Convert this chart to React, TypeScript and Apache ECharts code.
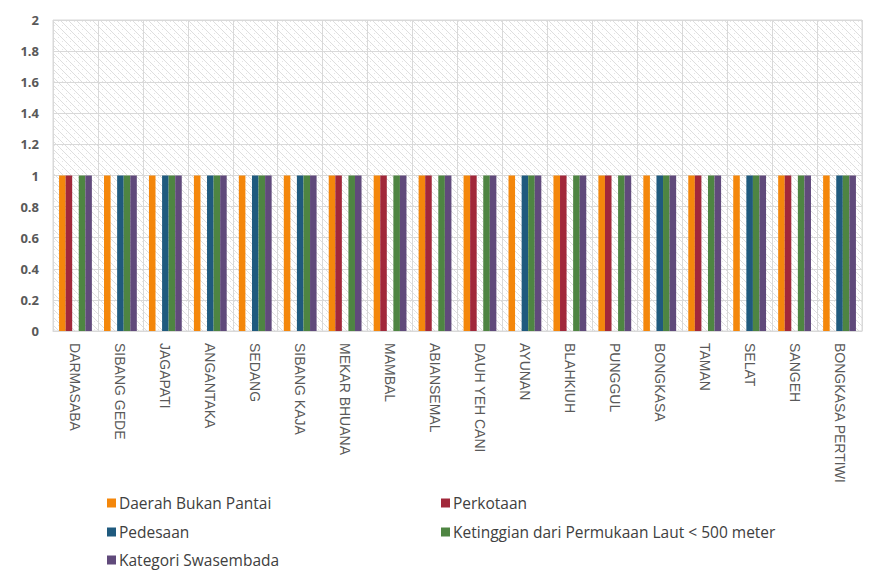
import React, { useEffect, useRef } from "react";
import * as echarts from "echarts";

const categories = [
  "DARMASABA", "SIBANG GEDE", "JAGAPATI", "ANGANTAKA", "SEDANG", "SIBANG KAJA",
  "MEKAR BHUANA", "MAMBAL", "ABIANSEMAL", "DAUH YEH CANI", "AYUNAN", "BLAHKIUH",
  "PUNGGUL", "BONGKASA", "TAMAN", "SELAT", "SANGEH", "BONGKASA PERTIWI",
];
const seriesNames = [
  "Daerah Bukan Pantai",
  "Perkotaan",
  "Pedesaan",
  "Ketinggian dari Permukaan Laut < 500 meter",
  "Kategori Swasembada",
];
const daerahBukanPantai = [1, 1, 1, 1, 1, 1, 1, 1, 1, 1, 1, 1, 1, 1, 1, 1, 1, 1];
const perkotaan = [1, 0, 0, 0, 0, 0, 1, 1, 1, 1, 0, 1, 1, 0, 1, 0, 1, 0];
const pedesaan = [0, 1, 1, 1, 1, 1, 0, 0, 0, 0, 1, 0, 0, 1, 0, 1, 0, 1];
const ketinggian = [1, 1, 1, 1, 1, 1, 1, 1, 1, 1, 1, 1, 1, 1, 1, 1, 1, 1];
const swasembada = [1, 1, 1, 1, 1, 1, 1, 1, 1, 1, 1, 1, 1, 1, 1, 1, 1, 1];
const yTicks = [0, 0.2, 0.4, 0.6, 0.8, 1, 1.2, 1.4, 1.6, 1.8, 2];

const colors = ["#F4870B", "#A1283A", "#1F5A7E", "#4E8542", "#604A7B"];
const seriesData = [daerahBukanPantai, perkotaan, pedesaan, ketinggian, swasembada];

function makePattern(): string {
  const c = document.createElement("canvas");
  c.width = 8;
  c.height = 8;
  const ctx = c.getContext("2d")!;
  ctx.fillStyle = "#ffffff";
  ctx.fillRect(0, 0, 8, 8);
  ctx.strokeStyle = "#dedede";
  ctx.lineWidth = 1;
  ctx.beginPath();
  ctx.moveTo(0, 0);
  ctx.lineTo(8, 8);
  ctx.moveTo(-4, 4);
  ctx.lineTo(4, 12);
  ctx.moveTo(4, -4);
  ctx.lineTo(12, 4);
  ctx.stroke();
  ctx.fillStyle = "#e6e6e6";
  ctx.fillRect(6, 1, 1, 1);
  ctx.fillRect(2, 5, 1, 1);
  return c.toDataURL();
}

export default function App() {
  const ref = useRef<HTMLDivElement>(null);
  useEffect(() => {
    if (!ref.current) return;
    const chart = echarts.init(ref.current, null, { renderer: "svg" });
    const pattern = makePattern();
    const legendPos = [
      { left: 102, top: 490 },
      { left: 436, top: 490 },
      { left: 102, top: 519 },
      { left: 436, top: 519 },
      { left: 102, top: 547 },
    ];
    chart.setOption({
      animation: false,
      backgroundColor: "#ffffff",
      graphic: [
        {
          type: "rect",
          shape: { x: 2.5, y: 2.5, width: 872, height: 572 },
          style: { fill: "none", stroke: "#d9d9d9", lineWidth: 1 },
          silent: true,
        },
      ],
      grid: {
        left: 53,
        right: 16,
        top: 20,
        bottom: 247,
        show: true,
        backgroundColor: { image: pattern, repeat: "repeat" } as any,
        borderColor: "#d9d9d9",
        borderWidth: 1,
      },
      legend: seriesNames.map((n, i) => ({
        data: [n],
        left: legendPos[i].left,
        top: legendPos[i].top,
        icon: "rect",
        itemWidth: 9,
        itemHeight: 9,
        textStyle: {
          color: "#404040",
          fontSize: 15.5,
          padding: [0, 0, 0, -2],
          fontFamily: "'Open Sans', sans-serif",
        },
      })),
      xAxis: {
        type: "category",
        data: categories,
        axisTick: { show: false },
        axisLine: { lineStyle: { color: "#d9d9d9" } },
        splitLine: { show: true, interval: 0, lineStyle: { color: "#d9d9d9" } },
        axisLabel: {
          interval: 0,
          rotate: -90,
          margin: 12,
          color: "#595959",
          fontSize: 14,
          fontFamily: "'Liberation Sans Narrow', 'Liberation Sans', sans-serif",
        },
      },
      yAxis: {
        type: "value",
        min: 0,
        max: 2,
        interval: 0.2,
        axisLine: { show: false },
        axisTick: { show: false },
        splitLine: { show: true, lineStyle: { color: "#d9d9d9" } },
        axisLabel: {
          color: "#595959",
          fontSize: 13,
          fontWeight: "bold",
          margin: 14,
          fontFamily: "'Open Sans', sans-serif",
          formatter: (v: number) => {
            const t = yTicks.find((x) => Math.abs(x - v) < 1e-6);
            return String(t !== undefined ? t : v);
          },
        },
      },
      series: seriesNames.map((n, i) => ({
        name: n,
        type: "bar",
        data: seriesData[i],
        itemStyle: { color: colors[i] },
        barGap: "0%",
        barCategoryGap: "27%",
      })),
    });
    return () => chart.dispose();
  }, []);
  return <div ref={ref} style={{ width: 878, height: 578, margin: -8 }} />;
}
